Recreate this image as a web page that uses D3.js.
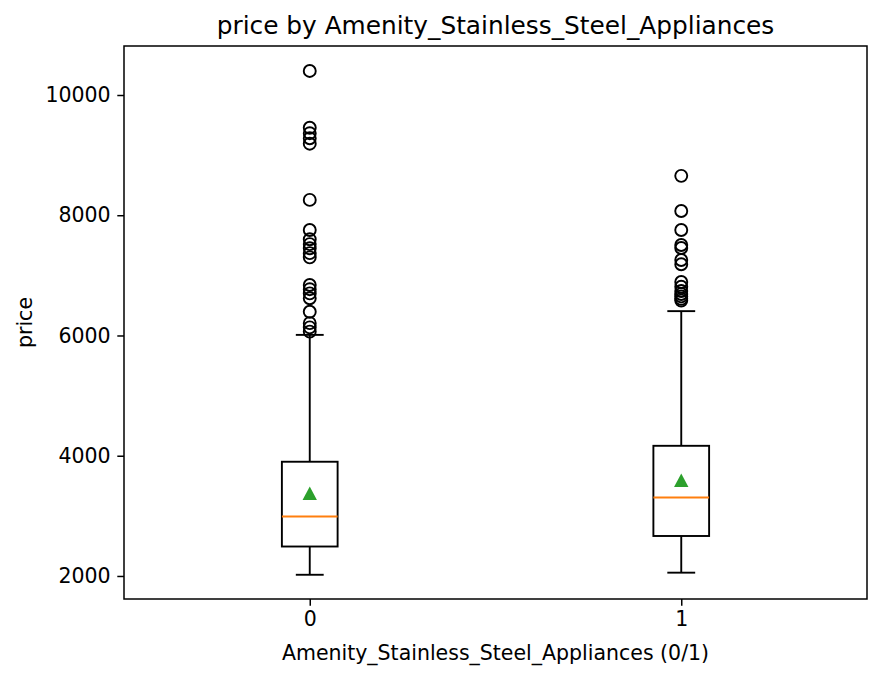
<!DOCTYPE html>
<html>
<head>
<meta charset="utf-8">
<script src="https://cdn.jsdelivr.net/npm/d3@7"></script>
<style>
  body { margin: 0; background: #fff; }
  svg { display: block; font-family: "DejaVu Sans", sans-serif; }
</style>
</head>
<body>
<svg id="chart" width="883" height="679"></svg>
<script>
// box statistics per group
var categories = ["0", "1"];
var q1Values = [2490, 2665];
var medianValues = [2990, 3305];
var q3Values = [3900, 4165];
var whiskerLow = [2020, 2055];
var whiskerHigh = [6010, 6405];
var meanValues = [3365, 3580];

// fliers per group
var outliers0 = [10400, 9455, 9365, 9280, 9190, 8255, 7755, 7600, 7520, 7450, 7370, 7300,
                 6840, 6770, 6700, 6620, 6395, 6205, 6135, 6065];
var outliers1 = [8655, 8070, 7755, 7505, 7455, 7255, 7185, 6890, 6810, 6740, 6690, 6650,
                 6610, 6580];
var outliers = [outliers0, outliers1];

var yTicks = [2000, 4000, 6000, 8000, 10000];
var yDomain = [1617, 10815];

var svg = d3.select("svg"),
    margin = {top: 46, right: 16, bottom: 80, left: 124},
    width = +svg.attr("width") - margin.left - margin.right,
    height = +svg.attr("height") - margin.top - margin.bottom;

var g = svg.append("g").attr("transform", "translate(" + margin.left + "," + margin.top + ")");

// positions 1,2 with xlim 0.5..2.5 like matplotlib
var x = d3.scaleLinear().domain([0.5, 2.5]).range([0, width]);
var y = d3.scaleLinear().domain(yDomain).range([height, 0]);

var boxW = x(1.15) - x(1);
var capW = boxW / 2;
var lw = 1.9;

var xAxis = g.append("g")
    .attr("transform", "translate(0," + height + ")")
    .call(d3.axisBottom(x)
        .tickValues([1, 2])
        .tickFormat(function(d) { return categories[d - 1]; })
        .tickSizeInner(6.7).tickSizeOuter(0).tickPadding(6.2));

var yAxis = g.append("g")
    .call(d3.axisLeft(y)
        .tickValues(yTicks)
        .tickFormat(d3.format("d"))
        .tickSizeInner(6.7).tickSizeOuter(0).tickPadding(6.7));

[xAxis, yAxis].forEach(function(a) {
  a.select(".domain").remove();
  a.selectAll(".tick line").attr("stroke", "#000").attr("stroke-width", 1.5);
  a.selectAll(".tick text").attr("fill", "#000").style("font-size", "20.5px")
      .style("font-family", "DejaVu Sans");
});

var groups = g.selectAll(".box")
    .data(categories)
    .enter().append("g")
    .attr("class", "box");

groups.each(function(c, i) {
  var gg = d3.select(this);
  var cx = x(i + 1);

  // whiskers
  gg.append("line")
      .attr("x1", cx).attr("x2", cx)
      .attr("y1", y(q1Values[i])).attr("y2", y(whiskerLow[i]))
      .attr("stroke", "#000").attr("stroke-width", lw);
  gg.append("line")
      .attr("x1", cx).attr("x2", cx)
      .attr("y1", y(q3Values[i])).attr("y2", y(whiskerHigh[i]))
      .attr("stroke", "#000").attr("stroke-width", lw);
  // caps
  [whiskerLow[i], whiskerHigh[i]].forEach(function(v) {
    gg.append("line")
        .attr("x1", cx - capW / 2).attr("x2", cx + capW / 2)
        .attr("y1", y(v)).attr("y2", y(v))
        .attr("stroke", "#000").attr("stroke-width", lw);
  });
  // box
  gg.append("rect")
      .attr("x", cx - boxW / 2)
      .attr("y", y(q3Values[i]))
      .attr("width", boxW)
      .attr("height", y(q1Values[i]) - y(q3Values[i]))
      .attr("fill", "none")
      .attr("stroke", "#000").attr("stroke-width", lw);
  // median
  gg.append("line")
      .attr("x1", cx - boxW / 2).attr("x2", cx + boxW / 2)
      .attr("y1", y(medianValues[i])).attr("y2", y(medianValues[i]))
      .attr("stroke", "#ff7f0e").attr("stroke-width", lw);
  // mean triangle
  gg.append("path")
      .attr("transform", "translate(" + cx + "," + y(meanValues[i]) + ")")
      .attr("d", "M0,-7.5L7.2,6L-7.2,6Z")
      .attr("fill", "#2ca02c");
  // fliers
  gg.selectAll("circle")
      .data(outliers[i])
      .enter().append("circle")
      .attr("cx", cx)
      .attr("cy", function(d) { return y(d); })
      .attr("r", 6)
      .attr("fill", "none")
      .attr("stroke", "#000")
      .attr("stroke-width", 1.9);
});

// frame
g.append("rect")
    .attr("width", width).attr("height", height)
    .attr("fill", "none")
    .attr("stroke", "#000").attr("stroke-width", 1.5);

svg.append("text")
    .attr("x", margin.left + width / 2)
    .attr("y", 34)
    .attr("text-anchor", "middle")
    .style("font-size", "24.8px")
    .text("price by Amenity_Stainless_Steel_Appliances");

svg.append("text")
    .attr("x", margin.left + width / 2)
    .attr("y", 660)
    .attr("text-anchor", "middle")
    .style("font-size", "20.5px")
    .text("Amenity_Stainless_Steel_Appliances (0/1)");

svg.append("text")
    .attr("transform", "translate(32," + (margin.top + height / 2) + ") rotate(-90)")
    .attr("text-anchor", "middle")
    .style("font-size", "20.5px")
    .text("price");
</script>
</body>
</html>
